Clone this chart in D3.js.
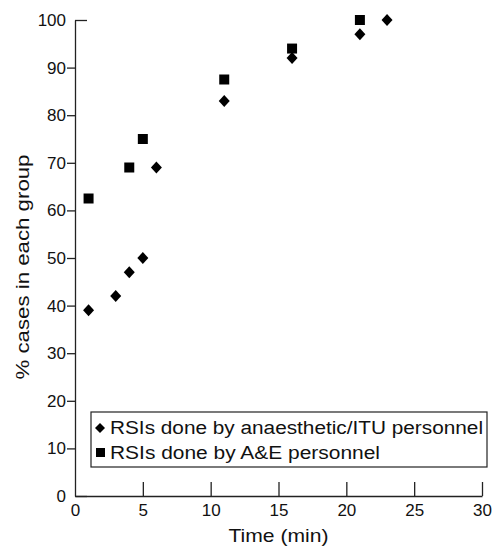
<!DOCTYPE html>
<html>
<head>
<meta charset="utf-8">
<script src="https://cdn.jsdelivr.net/npm/d3@7"></script>
<style>
  body { margin: 0; background: #fff; }
  svg { display: block; font-family: "Liberation Sans", Arial, sans-serif; }
</style>
</head>
<body>
<div id="chart"></div>
<script>
// データ ---------------------------------------------------------------
const anaesTime = [1, 3, 4, 5, 6, 11, 16, 21, 23];
const anaesPct  = [39, 42, 47, 50, 69, 83, 92, 97, 100];
const aeTime = [1, 4, 5, 11, 16, 21];
const aePct  = [62.5, 69, 75, 87.5, 94, 100];
const xTicks = [0, 5, 10, 15, 20, 25, 30];
const yTicks = [0, 10, 20, 30, 40, 50, 60, 70, 80, 90, 100];
const legendLabels = ['RSIs done by anaesthetic/ITU personnel', 'RSIs done by A&E personnel'];

const width = 494, height = 546;
const svg = d3.select('#chart').append('svg')
  .attr('width', width)
  .attr('height', height);

// スケール
const x = d3.scaleLinear().domain([0, 30]).range([75, 482]);
const y = d3.scaleLinear().domain([0, 100]).range([496, 20]);
const axisColor = '#222';

// x軸（ベースライン + 内向き目盛り）
const xAxis = svg.append('g')
  .attr('transform', 'translate(0,' + y(0) + ')')
  .call(d3.axisBottom(x).tickValues(xTicks).tickSize(-14).tickSizeOuter(0).tickPadding(7));
xAxis.select('.domain').attr('stroke', axisColor).attr('stroke-width', 1.3);
xAxis.selectAll('.tick line').attr('stroke', axisColor).attr('stroke-width', 1.3)
  .filter(d => d === 0).remove();
xAxis.selectAll('.tick text').attr('font-size', '17px').attr('fill', '#111')
  .attr('dy', '0.75em');

// y軸（外向き目盛り、0と100は内向き）
const yAxis = svg.append('g')
  .attr('transform', 'translate(' + x(0) + ',0)')
  .call(d3.axisLeft(y).tickValues(yTicks).tickSize(8).tickSizeOuter(0).tickPadding(1));
yAxis.select('.domain').attr('stroke', axisColor).attr('stroke-width', 1.3);
yAxis.selectAll('.tick line').attr('stroke', axisColor).attr('stroke-width', 1.3)
  .attr('x2', d => (d === 0 || d === 100) ? 12 : -8);
yAxis.selectAll('.tick text').attr('font-size', '17px').attr('fill', '#111')
  .attr('x', -9);

// 軸タイトル
svg.append('text')
  .attr('x', (x(0) + x(30)) / 2)
  .attr('y', 542)
  .attr('text-anchor', 'middle')
  .attr('font-size', '19px')
  .attr('textLength', 100)
  .attr('lengthAdjust', 'spacingAndGlyphs')
  .attr('fill', '#111')
  .text('Time (min)');
svg.append('text')
  .attr('transform', 'translate(29,267) rotate(-90)')
  .attr('text-anchor', 'middle')
  .attr('font-size', '17.5px')
  .attr('textLength', 225)
  .attr('lengthAdjust', 'spacingAndGlyphs')
  .attr('fill', '#111')
  .text('% cases in each group');

// マーカー
const diamond = (cx, cy, w, h) => `M${cx},${cy - h / 2}L${cx + w / 2},${cy}L${cx},${cy + h / 2}L${cx - w / 2},${cy}Z`;
const square = (cx, cy, s) => `M${cx - s / 2},${cy - s / 2}h${s}v${s}h${-s}Z`;

svg.append('g').selectAll('path')
  .data(anaesTime.map((t, i) => [t, anaesPct[i]]))
  .enter().append('path')
  .attr('d', d => diamond(x(d[0]), y(d[1]), 11, 12))
  .attr('fill', '#000');

svg.append('g').selectAll('path')
  .data(aeTime.map((t, i) => [t, aePct[i]]))
  .enter().append('path')
  .attr('d', d => square(x(d[0]), y(d[1]), 10))
  .attr('fill', '#000');

// 凡例
const legendWidths = [373, 270];
const legend = svg.append('g');
legend.append('rect')
  .attr('x', 91).attr('y', 412)
  .attr('width', 396).attr('height', 55)
  .attr('fill', '#fff')
  .attr('stroke', axisColor)
  .attr('stroke-width', 1.2);
legend.append('path').attr('d', diamond(100, 428, 10, 10)).attr('fill', '#000');
legend.append('path').attr('d', square(100.5, 452.5, 9)).attr('fill', '#000');
legendLabels.forEach((lab, i) => {
  legend.append('text')
    .attr('x', 110)
    .attr('y', 434 + i * 25)
    .attr('font-size', '18px')
    .attr('textLength', legendWidths[i])
    .attr('lengthAdjust', 'spacingAndGlyphs')
    .attr('fill', '#111')
    .text(lab);
});
</script>
</body>
</html>
